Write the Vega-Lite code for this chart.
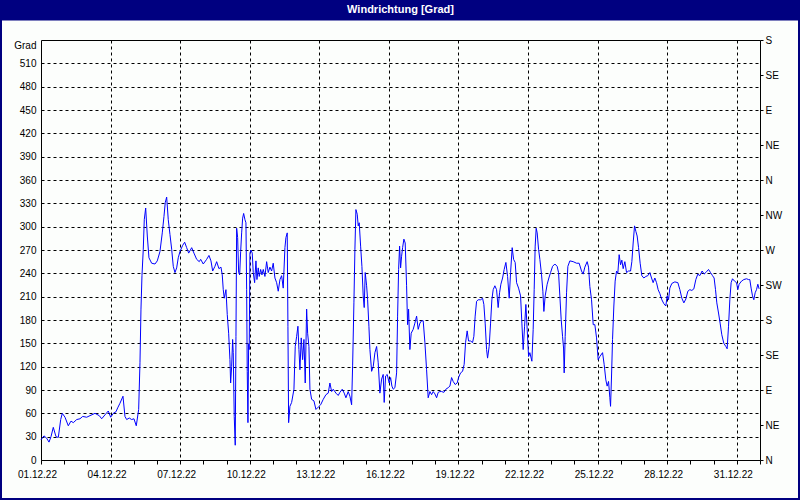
{
"$schema": "https://vega.github.io/schema/vega-lite/v6.json",
"width": 800, "height": 500, "autosize": {"type": "none"}, "padding": 0,
"background": "#FCFEFC",
"config": {
 "view": {"fill": "#FCFEFC", "stroke": "#000080", "strokeWidth": 4},
 "axis": {"labelFont": "Liberation Sans", "labelFontSize": 10, "labelColor": "#000000", "domainColor": "#000000", "tickColor": "#000000", "gridColor": "#000000", "gridOpacity": 1, "gridWidth": 1, "gridDash": [3,3], "domainWidth": 1, "tickWidth": 1, "titleFont": "Liberation Sans"}
},
"layer": [
 {
  "data": {"values": [
{"zeit":"2022-12-01T00:00","grad":26},{"zeit":"2022-12-01T03:06","grad":31},{"zeit":"2022-12-01T05:54","grad":28},{"zeit":"2022-12-01T08:17","grad":23},{"zeit":"2022-12-01T10:21","grad":30},{"zeit":"2022-12-01T12:43","grad":42},{"zeit":"2022-12-01T15:31","grad":30},{"zeit":"2022-12-01T17:54","grad":29},{"zeit":"2022-12-01T20:23","grad":52},{"zeit":"2022-12-01T22:02","grad":60},
{"zeit":"2022-12-02T00:50","grad":55},{"zeit":"2022-12-02T04:14","grad":44},{"zeit":"2022-12-02T07:02","grad":50},{"zeit":"2022-12-02T09:25","grad":48},{"zeit":"2022-12-02T12:56","grad":52},{"zeit":"2022-12-02T16:21","grad":53},{"zeit":"2022-12-02T19:08","grad":56},{"zeit":"2022-12-02T23:16","grad":55},
{"zeit":"2022-12-03T02:41","grad":57},{"zeit":"2022-12-03T07:51","grad":60},{"zeit":"2022-12-03T12:19","grad":57},{"zeit":"2022-12-03T14:47","grad":53},{"zeit":"2022-12-03T18:12","grad":58},{"zeit":"2022-12-03T21:37","grad":63},
{"zeit":"2022-12-04T00:06","grad":55},{"zeit":"2022-12-04T02:48","grad":60},{"zeit":"2022-12-04T05:35","grad":62},{"zeit":"2022-12-04T07:21","grad":67},{"zeit":"2022-12-04T09:43","grad":73},{"zeit":"2022-12-04T12:50","grad":82},{"zeit":"2022-12-04T14:54","grad":56},{"zeit":"2022-12-04T16:39","grad":52},{"zeit":"2022-12-04T19:21","grad":54},{"zeit":"2022-12-04T21:50","grad":52},
{"zeit":"2022-12-05T00:12","grad":53},{"zeit":"2022-12-05T02:35","grad":44},{"zeit":"2022-12-05T05:04","grad":65},{"zeit":"2022-12-05T06:25","grad":125},{"zeit":"2022-12-05T07:27","grad":194},{"zeit":"2022-12-05T08:29","grad":237},{"zeit":"2022-12-05T09:50","grad":271},{"zeit":"2022-12-05T10:52","grad":309},{"zeit":"2022-12-05T12:19","grad":324},{"zeit":"2022-12-05T14:00","grad":288},{"zeit":"2022-12-05T15:43","grad":260},{"zeit":"2022-12-05T18:31","grad":253},{"zeit":"2022-12-05T21:56","grad":252},
{"zeit":"2022-12-06T00:19","grad":256},{"zeit":"2022-12-06T03:06","grad":268},{"zeit":"2022-12-06T05:29","grad":292},{"zeit":"2022-12-06T07:14","grad":313},{"zeit":"2022-12-06T08:35","grad":331},{"zeit":"2022-12-06T10:02","grad":338},{"zeit":"2022-12-06T11:41","grad":309},{"zeit":"2022-12-06T13:27","grad":290},{"zeit":"2022-12-06T15:13","grad":271},{"zeit":"2022-12-06T16:52","grad":249},{"zeit":"2022-12-06T18:37","grad":241},{"zeit":"2022-12-06T20:23","grad":247},{"zeit":"2022-12-06T22:02","grad":260},{"zeit":"2022-12-06T23:48","grad":268},
{"zeit":"2022-12-07T02:36","grad":276},{"zeit":"2022-12-07T04:40","grad":280},{"zeit":"2022-12-07T06:44","grad":273},{"zeit":"2022-12-07T08:49","grad":266},{"zeit":"2022-12-07T11:55","grad":273},{"zeit":"2022-12-07T14:17","grad":266},{"zeit":"2022-12-07T17:05","grad":258},{"zeit":"2022-12-07T19:46","grad":255},{"zeit":"2022-12-07T21:13","grad":258},{"zeit":"2022-12-07T23:54","grad":252},
{"zeit":"2022-12-08T03:24","grad":258},{"zeit":"2022-12-08T05:48","grad":263},{"zeit":"2022-12-08T07:52","grad":256},{"zeit":"2022-12-08T09:38","grad":243},{"zeit":"2022-12-08T12:00","grad":249},{"zeit":"2022-12-08T13:46","grad":255},{"zeit":"2022-12-08T16:08","grad":246},{"zeit":"2022-12-08T18:13","grad":248},{"zeit":"2022-12-08T19:34","grad":238},{"zeit":"2022-12-08T20:36","grad":219},{"zeit":"2022-12-08T21:38","grad":208},{"zeit":"2022-12-08T23:23","grad":219},
{"zeit":"2022-12-09T00:44","grad":187},{"zeit":"2022-12-09T02:10","grad":163},{"zeit":"2022-12-09T03:31","grad":129},{"zeit":"2022-12-09T04:14","grad":99},{"zeit":"2022-12-09T05:16","grad":120},{"zeit":"2022-12-09T06:18","grad":155},{"zeit":"2022-12-09T06:56","grad":138},{"zeit":"2022-12-09T07:58","grad":56},{"zeit":"2022-12-09T09:00","grad":19},{"zeit":"2022-12-09T09:44","grad":159},{"zeit":"2022-12-09T10:27","grad":298},{"zeit":"2022-12-09T11:29","grad":286},{"zeit":"2022-12-09T12:31","grad":241},{"zeit":"2022-12-09T13:34","grad":238},{"zeit":"2022-12-09T14:36","grad":268},{"zeit":"2022-12-09T15:38","grad":292},{"zeit":"2022-12-09T16:40","grad":311},{"zeit":"2022-12-09T17:42","grad":317},{"zeit":"2022-12-09T19:02","grad":309},{"zeit":"2022-12-09T20:04","grad":305},{"zeit":"2022-12-09T20:48","grad":219},{"zeit":"2022-12-09T21:25","grad":114},{"zeit":"2022-12-09T22:08","grad":48},{"zeit":"2022-12-09T22:51","grad":149},{"zeit":"2022-12-09T23:28","grad":142},
{"zeit":"2022-12-10T00:12","grad":266},{"zeit":"2022-12-10T01:14","grad":270},{"zeit":"2022-12-10T02:35","grad":266},{"zeit":"2022-12-10T03:37","grad":241},{"zeit":"2022-12-10T05:04","grad":228},{"zeit":"2022-12-10T06:25","grad":256},{"zeit":"2022-12-10T07:27","grad":232},{"zeit":"2022-12-10T08:48","grad":247},{"zeit":"2022-12-10T09:50","grad":236},{"zeit":"2022-12-10T11:17","grad":245},{"zeit":"2022-12-10T12:38","grad":238},{"zeit":"2022-12-10T14:00","grad":245},{"zeit":"2022-12-10T15:43","grad":236},{"zeit":"2022-12-10T17:29","grad":255},{"zeit":"2022-12-10T19:08","grad":241},{"zeit":"2022-12-10T20:54","grad":248},{"zeit":"2022-12-10T22:39","grad":243},
{"zeit":"2022-12-11T00:18","grad":253},{"zeit":"2022-12-11T02:04","grad":234},{"zeit":"2022-12-11T03:50","grad":228},{"zeit":"2022-12-11T05:29","grad":217},{"zeit":"2022-12-11T07:15","grad":232},{"zeit":"2022-12-11T09:00","grad":237},{"zeit":"2022-12-11T10:39","grad":221},{"zeit":"2022-12-11T12:25","grad":273},{"zeit":"2022-12-11T13:27","grad":286},{"zeit":"2022-12-11T14:48","grad":292},{"zeit":"2022-12-11T15:31","grad":172},{"zeit":"2022-12-11T16:14","grad":48},{"zeit":"2022-12-11T17:35","grad":69},{"zeit":"2022-12-11T19:21","grad":74},{"zeit":"2022-12-11T21:44","grad":91},{"zeit":"2022-12-11T23:05","grad":146},
{"zeit":"2022-12-12T00:32","grad":159},{"zeit":"2022-12-12T01:52","grad":172},{"zeit":"2022-12-12T02:54","grad":142},{"zeit":"2022-12-12T03:56","grad":116},{"zeit":"2022-12-12T05:17","grad":157},{"zeit":"2022-12-12T06:43","grad":129},{"zeit":"2022-12-12T08:04","grad":155},{"zeit":"2022-12-12T09:25","grad":99},{"zeit":"2022-12-12T10:52","grad":194},{"zeit":"2022-12-12T11:54","grad":163},{"zeit":"2022-12-12T13:15","grad":146},{"zeit":"2022-12-12T14:17","grad":91},{"zeit":"2022-12-12T16:02","grad":78},{"zeit":"2022-12-12T18:25","grad":76},{"zeit":"2022-12-12T20:29","grad":65},{"zeit":"2022-12-12T22:53","grad":68},
{"zeit":"2022-12-13T01:22","grad":71},{"zeit":"2022-12-13T04:03","grad":78},{"zeit":"2022-12-13T06:50","grad":84},{"zeit":"2022-12-13T09:13","grad":86},{"zeit":"2022-12-13T10:58","grad":99},{"zeit":"2022-12-13T12:44","grad":88},{"zeit":"2022-12-13T14:23","grad":91},{"zeit":"2022-12-13T17:10","grad":86},{"zeit":"2022-12-13T19:33","grad":83},{"zeit":"2022-12-13T21:19","grad":87},{"zeit":"2022-12-13T23:41","grad":91},
{"zeit":"2022-12-14T01:45","grad":86},{"zeit":"2022-12-14T03:31","grad":80},{"zeit":"2022-12-14T05:54","grad":88},{"zeit":"2022-12-14T07:39","grad":82},{"zeit":"2022-12-14T09:25","grad":71},{"zeit":"2022-12-14T10:27","grad":121},{"zeit":"2022-12-14T11:48","grad":202},{"zeit":"2022-12-14T12:50","grad":271},{"zeit":"2022-12-14T13:52","grad":322},{"zeit":"2022-12-14T15:13","grad":316},{"zeit":"2022-12-14T16:15","grad":301},{"zeit":"2022-12-14T17:17","grad":305},{"zeit":"2022-12-14T18:44","grad":275},{"zeit":"2022-12-14T20:04","grad":249},{"zeit":"2022-12-14T21:25","grad":211},{"zeit":"2022-12-14T22:27","grad":196},{"zeit":"2022-12-14T23:29","grad":241},
{"zeit":"2022-12-15T00:56","grad":224},{"zeit":"2022-12-15T01:58","grad":206},{"zeit":"2022-12-15T03:19","grad":172},{"zeit":"2022-12-15T04:21","grad":142},{"zeit":"2022-12-15T06:07","grad":114},{"zeit":"2022-12-15T07:46","grad":120},{"zeit":"2022-12-15T09:31","grad":138},{"zeit":"2022-12-15T11:17","grad":146},{"zeit":"2022-12-15T12:56","grad":125},{"zeit":"2022-12-15T14:41","grad":86},{"zeit":"2022-12-15T16:27","grad":104},{"zeit":"2022-12-15T18:06","grad":110},{"zeit":"2022-12-15T19:08","grad":74},{"zeit":"2022-12-15T20:35","grad":108},{"zeit":"2022-12-15T22:14","grad":110},
{"zeit":"2022-12-16T00:18","grad":99},{"zeit":"2022-12-16T01:45","grad":106},{"zeit":"2022-12-16T03:06","grad":95},{"zeit":"2022-12-16T04:29","grad":91},{"zeit":"2022-12-16T06:12","grad":93},{"zeit":"2022-12-16T07:58","grad":112},{"zeit":"2022-12-16T09:00","grad":185},{"zeit":"2022-12-16T10:02","grad":245},{"zeit":"2022-12-16T11:04","grad":275},{"zeit":"2022-12-16T12:06","grad":247},{"zeit":"2022-12-16T13:08","grad":262},{"zeit":"2022-12-16T14:10","grad":273},{"zeit":"2022-12-16T15:31","grad":284},{"zeit":"2022-12-16T16:52","grad":279},{"zeit":"2022-12-16T18:18","grad":224},{"zeit":"2022-12-16T19:20","grad":174},{"zeit":"2022-12-16T20:22","grad":194},{"zeit":"2022-12-16T21:43","grad":142},{"zeit":"2022-12-16T23:04","grad":163},
{"zeit":"2022-12-17T01:08","grad":168},{"zeit":"2022-12-17T02:54","grad":176},{"zeit":"2022-12-17T04:40","grad":185},{"zeit":"2022-12-17T06:19","grad":168},{"zeit":"2022-12-17T08:05","grad":176},{"zeit":"2022-12-17T09:50","grad":179},{"zeit":"2022-12-17T11:29","grad":179},{"zeit":"2022-12-17T13:15","grad":151},{"zeit":"2022-12-17T15:00","grad":116},{"zeit":"2022-12-17T16:39","grad":80},{"zeit":"2022-12-17T18:25","grad":88},{"zeit":"2022-12-17T20:11","grad":84},{"zeit":"2022-12-17T21:50","grad":88},{"zeit":"2022-12-17T23:36","grad":85},
{"zeit":"2022-12-18T01:21","grad":80},{"zeit":"2022-12-18T03:00","grad":87},{"zeit":"2022-12-18T04:46","grad":88},{"zeit":"2022-12-18T06:31","grad":88},{"zeit":"2022-12-18T08:54","grad":87},{"zeit":"2022-12-18T10:58","grad":91},{"zeit":"2022-12-18T13:21","grad":93},{"zeit":"2022-12-18T15:07","grad":95},{"zeit":"2022-12-18T16:52","grad":106},{"zeit":"2022-12-18T18:31","grad":101},{"zeit":"2022-12-18T20:35","grad":97},{"zeit":"2022-12-18T22:39","grad":99},
{"zeit":"2022-12-19T00:06","grad":106},{"zeit":"2022-12-19T02:10","grad":112},{"zeit":"2022-12-19T04:14","grad":114},{"zeit":"2022-12-19T05:53","grad":123},{"zeit":"2022-12-19T07:20","grad":151},{"zeit":"2022-12-19T08:59","grad":166},{"zeit":"2022-12-19T10:26","grad":153},{"zeit":"2022-12-19T12:30","grad":153},{"zeit":"2022-12-19T14:34","grad":151},{"zeit":"2022-12-19T15:55","grad":159},{"zeit":"2022-12-19T17:16","grad":185},{"zeit":"2022-12-19T18:43","grad":204},{"zeit":"2022-12-19T20:22","grad":206},{"zeit":"2022-12-19T22:51","grad":206},
{"zeit":"2022-12-20T00:55","grad":208},{"zeit":"2022-12-20T02:16","grad":200},{"zeit":"2022-12-20T03:37","grad":176},{"zeit":"2022-12-20T05:04","grad":142},{"zeit":"2022-12-20T06:06","grad":131},{"zeit":"2022-12-20T07:45","grad":146},{"zeit":"2022-12-20T09:12","grad":176},{"zeit":"2022-12-20T10:33","grad":206},{"zeit":"2022-12-20T11:54","grad":219},{"zeit":"2022-12-20T13:40","grad":224},{"zeit":"2022-12-20T15:25","grad":219},{"zeit":"2022-12-20T17:04","grad":196},{"zeit":"2022-12-20T18:31","grad":215},{"zeit":"2022-12-20T19:52","grad":226},{"zeit":"2022-12-20T21:38","grad":234},{"zeit":"2022-12-20T23:17","grad":245},
{"zeit":"2022-12-21T01:03","grad":254},{"zeit":"2022-12-21T02:49","grad":236},{"zeit":"2022-12-21T04:28","grad":208},{"zeit":"2022-12-21T05:55","grad":241},{"zeit":"2022-12-21T07:34","grad":273},{"zeit":"2022-12-21T09:01","grad":258},{"zeit":"2022-12-21T10:40","grad":254},{"zeit":"2022-12-21T12:07","grad":228},{"zeit":"2022-12-21T14:11","grad":221},{"zeit":"2022-12-21T16:15","grad":211},{"zeit":"2022-12-21T17:36","grad":176},{"zeit":"2022-12-21T18:57","grad":142},{"zeit":"2022-12-21T20:24","grad":172},{"zeit":"2022-12-21T21:44","grad":200},{"zeit":"2022-12-21T23:05","grad":168},
{"zeit":"2022-12-22T00:32","grad":133},{"zeit":"2022-12-22T01:52","grad":138},{"zeit":"2022-12-22T03:57","grad":127},{"zeit":"2022-12-22T05:18","grad":168},{"zeit":"2022-12-22T06:20","grad":219},{"zeit":"2022-12-22T07:22","grad":275},{"zeit":"2022-12-22T08:24","grad":298},{"zeit":"2022-12-22T09:26","grad":292},{"zeit":"2022-12-22T10:52","grad":271},{"zeit":"2022-12-22T12:13","grad":258},{"zeit":"2022-12-22T13:58","grad":238},{"zeit":"2022-12-22T15:19","grad":217},{"zeit":"2022-12-22T16:21","grad":191},{"zeit":"2022-12-22T17:43","grad":211},{"zeit":"2022-12-22T19:47","grad":226},{"zeit":"2022-12-22T21:32","grad":234},{"zeit":"2022-12-22T23:17","grad":241},
{"zeit":"2022-12-23T01:21","grad":249},{"zeit":"2022-12-23T03:44","grad":252},{"zeit":"2022-12-23T06:07","grad":249},{"zeit":"2022-12-23T07:33","grad":241},{"zeit":"2022-12-23T08:54","grad":211},{"zeit":"2022-12-23T10:15","grad":181},{"zeit":"2022-12-23T11:41","grad":159},{"zeit":"2022-12-23T12:43","grad":144},{"zeit":"2022-12-23T13:22","grad":112},{"zeit":"2022-12-23T14:24","grad":159},{"zeit":"2022-12-23T15:50","grad":215},{"zeit":"2022-12-23T17:11","grad":249},{"zeit":"2022-12-23T19:15","grad":256},{"zeit":"2022-12-23T22:42","grad":255},
{"zeit":"2022-12-24T02:11","grad":253},{"zeit":"2022-12-24T04:52","grad":253},{"zeit":"2022-12-24T07:19","grad":243},{"zeit":"2022-12-24T09:00","grad":239},{"zeit":"2022-12-24T10:46","grad":248},{"zeit":"2022-12-24T13:09","grad":255},{"zeit":"2022-12-24T14:35","grad":248},{"zeit":"2022-12-24T15:56","grad":223},{"zeit":"2022-12-24T17:41","grad":206},{"zeit":"2022-12-24T19:25","grad":174},{"zeit":"2022-12-24T21:07","grad":174},{"zeit":"2022-12-24T22:52","grad":157},
{"zeit":"2022-12-25T00:31","grad":129},{"zeit":"2022-12-25T02:17","grad":133},{"zeit":"2022-12-25T05:05","grad":138},{"zeit":"2022-12-25T06:44","grad":123},{"zeit":"2022-12-25T08:29","grad":103},{"zeit":"2022-12-25T09:50","grad":95},{"zeit":"2022-12-25T11:17","grad":101},{"zeit":"2022-12-25T12:38","grad":80},{"zeit":"2022-12-25T13:21","grad":69},{"zeit":"2022-12-25T14:23","grad":108},{"zeit":"2022-12-25T15:25","grad":155},{"zeit":"2022-12-25T16:46","grad":198},{"zeit":"2022-12-25T18:07","grad":230},{"zeit":"2022-12-25T19:34","grad":243},{"zeit":"2022-12-25T20:54","grad":240},{"zeit":"2022-12-25T22:15","grad":264},{"zeit":"2022-12-25T23:42","grad":251},
{"zeit":"2022-12-26T01:03","grad":257},{"zeit":"2022-12-26T02:24","grad":246},{"zeit":"2022-12-26T04:09","grad":255},{"zeit":"2022-12-26T05:55","grad":241},{"zeit":"2022-12-26T07:59","grad":243},{"zeit":"2022-12-26T10:03","grad":243},{"zeit":"2022-12-26T11:24","grad":255},{"zeit":"2022-12-26T12:45","grad":279},{"zeit":"2022-12-26T14:11","grad":301},{"zeit":"2022-12-26T15:32","grad":294},{"zeit":"2022-12-26T16:53","grad":288},{"zeit":"2022-12-26T18:20","grad":273},{"zeit":"2022-12-26T20:00","grad":253},{"zeit":"2022-12-26T21:44","grad":237},{"zeit":"2022-12-26T23:48","grad":234},
{"zeit":"2022-12-27T01:52","grad":236},{"zeit":"2022-12-27T03:57","grad":237},{"zeit":"2022-12-27T06:01","grad":241},{"zeit":"2022-12-27T07:46","grad":234},{"zeit":"2022-12-27T09:25","grad":228},{"zeit":"2022-12-27T11:11","grad":234},{"zeit":"2022-12-27T12:56","grad":228},{"zeit":"2022-12-27T14:36","grad":219},{"zeit":"2022-12-27T16:21","grad":214},{"zeit":"2022-12-27T18:26","grad":206},{"zeit":"2022-12-27T20:30","grad":201},{"zeit":"2022-12-27T22:34","grad":198},{"zeit":"2022-12-27T23:55","grad":211},
{"zeit":"2022-12-28T01:21","grad":206},{"zeit":"2022-12-28T02:42","grad":221},{"zeit":"2022-12-28T04:46","grad":227},{"zeit":"2022-12-28T07:53","grad":229},{"zeit":"2022-12-28T11:00","grad":228},{"zeit":"2022-12-28T13:04","grad":219},{"zeit":"2022-12-28T15:08","grad":208},{"zeit":"2022-12-28T17:12","grad":202},{"zeit":"2022-12-28T19:16","grad":207},{"zeit":"2022-12-28T21:20","grad":217},{"zeit":"2022-12-28T23:24","grad":219},
{"zeit":"2022-12-29T01:28","grad":218},{"zeit":"2022-12-29T03:32","grad":220},{"zeit":"2022-12-29T05:36","grad":232},{"zeit":"2022-12-29T07:40","grad":239},{"zeit":"2022-12-29T09:44","grad":237},{"zeit":"2022-12-29T12:07","grad":243},{"zeit":"2022-12-29T14:11","grad":239},{"zeit":"2022-12-29T16:40","grad":242},{"zeit":"2022-12-29T18:44","grad":245},{"zeit":"2022-12-29T20:48","grad":241},{"zeit":"2022-12-29T22:52","grad":237},
{"zeit":"2022-12-30T00:31","grad":234},{"zeit":"2022-12-30T01:58","grad":219},{"zeit":"2022-12-30T03:19","grad":202},{"zeit":"2022-12-30T05:05","grad":189},{"zeit":"2022-12-30T06:44","grad":176},{"zeit":"2022-12-30T08:29","grad":161},{"zeit":"2022-12-30T10:34","grad":150},{"zeit":"2022-12-30T12:38","grad":146},{"zeit":"2022-12-30T14:00","grad":143},{"zeit":"2022-12-30T15:26","grad":172},{"zeit":"2022-12-30T16:47","grad":206},{"zeit":"2022-12-30T18:08","grad":228},{"zeit":"2022-12-30T19:34","grad":233},{"zeit":"2022-12-30T21:38","grad":230},{"zeit":"2022-12-30T23:43","grad":228},
{"zeit":"2022-12-31T01:03","grad":219},{"zeit":"2022-12-31T02:24","grad":226},{"zeit":"2022-12-31T04:53","grad":230},{"zeit":"2022-12-31T07:16","grad":232},{"zeit":"2022-12-31T10:03","grad":233},{"zeit":"2022-12-31T12:07","grad":232},{"zeit":"2022-12-31T13:27","grad":232},{"zeit":"2022-12-31T14:48","grad":221},{"zeit":"2022-12-31T16:15","grad":211},{"zeit":"2022-12-31T17:36","grad":206},{"zeit":"2022-12-31T19:00","grad":215},{"zeit":"2022-12-31T20:23","grad":219},{"zeit":"2022-12-31T21:46","grad":226},{"zeit":"2022-12-31T23:05","grad":220}
  ]},
  "mark": {"type": "line", "color": "#0000FF", "strokeWidth": 1},
  "encoding": {
   "x": {"field": "zeit", "type": "temporal",
    "scale": {"domain": [{"year": 2022, "month": 12, "date": 1}, {"year": 2023, "month": 1, "date": 1}], "range": [41, 760], "nice": false},
    "axis": {"orient": "bottom", "offset": -40, "title": null, "tickCount": {"interval": "day", "step": 1}, "tickSize": 4, "labelPadding": 5, "labelOffset": -4, "labelAngle": 0, "labelOverlap": false, "labelFlush": false, "labelBound": false,
     "labelExpr": "month(datum.value) == 11 && date(datum.value) % 3 == 1 ? timeFormat(datum.value, '%d.%m.%y') : ''",
     "grid": true, "gridOpacity": {"condition": {"test": "month(datum.value) == 11 && date(datum.value) % 3 == 1 && date(datum.value) > 1", "value": 1}, "value": 0}}},
   "y": {"field": "grad", "type": "quantitative",
    "scale": {"domain": [0, 540], "range": [460, 40], "nice": false, "zero": false},
    "axis": {"orient": "left", "offset": -41, "title": null, "values": [0,30,60,90,120,150,180,210,240,270,300,330,360,390,420,450,480,510,540], "ticks": false, "labelPadding": 5, "labelOverlap": false, "labelFlush": false, "labelBound": false,
     "labelExpr": "datum.value == 540 ? 'Grad' : datum.label",
     "labelBaseline": {"condition": {"test": "datum.value == 540", "value": "top"}, "value": "middle"},
     "grid": true, "gridDash": {"condition": {"test": "datum.value == 540", "value": []}, "value": [3, 3]}}}
  }
 },
 {
  "data": {"values": [{"titel": "Windrichtung [Grad]"}]},
  "mark": {"type": "text", "color": "#FFFFFF", "font": "Liberation Sans", "fontSize": 11, "fontWeight": "bold", "align": "center", "baseline": "middle"},
  "encoding": {
   "text": {"field": "titel"},
   "x": {"datum": {"year": 2022, "month": 12, "date": 16, "hours": 12}, "type": "temporal",
    "axis": {"orient": "top", "offset": 21, "title": null, "domainColor": "#000080", "domainWidth": 82, "domainCap": "square", "ticks": false, "labels": false, "grid": false}},
   "y": {"datum": 578, "type": "quantitative",
    "axis": {"orient": "right", "offset": -40, "title": null, "values": [0,45,90,135,180,225,270,315,360,405,450,495,540], "tickSize": 3, "labelPadding": 2, "grid": false, "labelOverlap": false, "labelFlush": false, "labelBound": false, "labelBaseline": "middle",
     "labelExpr": "['N','NE','E','SE','S','SW','W','NW'][round(datum.value / 45) % 8]"}}
  }
 }
],
"resolve": {"axis": {"x": "independent", "y": "independent"}}
}
